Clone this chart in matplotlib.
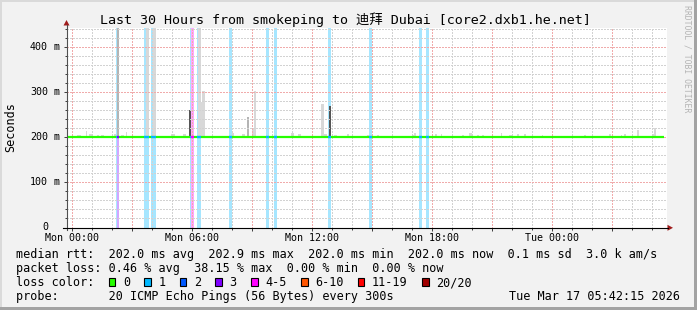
import matplotlib
matplotlib.use('Agg')
import matplotlib.pyplot as plt
from matplotlib.patches import Rectangle, Polygon
from matplotlib.transforms import blended_transform_factory

W, H = 697, 310
MONO = 'DejaVu Sans Mono'
TITLE_FONT = ['DejaVu Sans Mono', 'Noto Sans CJK SC']

# time axis: hours since Mon 00:00
view_start, view_end = -0.25, 29.75
data_end = 29.6
median_ms = 202.0
y_top = 444.4

x_labels = ['Mon 00:00', 'Mon 06:00', 'Mon 12:00', 'Mon 18:00', 'Tue 00:00']
x_label_hours = [0, 6, 12, 18, 24]
y_label_values = [0, 100, 200, 300, 400]
y_label_units = ['', 'm', 'm', 'm', 'm']

loss_labels = ['0', '1', '2', '3', '4-5', '6-10', '11-19', '20/20']
loss_colors = ['#26ff00', '#00b8ff', '#0059ff', '#7e00ff', '#ff00ff', '#ff5500', '#ff0000', '#a10000']

# loss events (hours), binned by lost pings out of 20
loss_start = [2.185, 2.265, 3.600, 3.965, 5.885, 5.965, 6.235, 7.850, 9.700, 10.100, 12.815, 14.850, 17.365, 17.700]
loss_end = [2.265, 2.350, 3.865, 4.185, 5.965, 6.100, 6.450, 7.985, 9.835, 10.235, 12.950, 14.985, 17.485, 17.850]
loss_bin = ['1', '3', '1', '1', '1', '4-5', '1', '1', '1', '1', '1', '1', '1', '1']

# smoke (ping spread above the median)
smoke_start = [0.235, 0.700, 0.865, 1.235, 1.435, 2.100, 2.225, 2.450, 2.685, 3.685, 4.035, 4.950, 5.565,
               5.835, 6.315, 6.465, 6.515, 7.980, 8.485, 8.735, 8.980, 9.100, 10.950, 11.300, 12.450,
               12.600, 12.850, 13.100, 13.735, 14.735, 15.235, 16.985, 17.100, 18.150, 18.450, 19.485,
               19.850, 20.235, 20.485, 21.450, 21.850, 22.235, 22.600, 23.485, 25.600, 26.850, 27.450,
               27.600, 28.250, 28.985, 29.100]
smoke_end = [0.435, 0.770, 0.985, 1.350, 1.600, 2.185, 2.350, 2.600, 2.735, 3.865, 4.185, 5.150, 5.700,
             5.950, 6.450, 6.515, 6.635, 8.100, 8.650, 8.850, 9.100, 9.200, 11.100, 11.435, 12.600,
             12.735, 12.950, 13.235, 13.850, 14.850, 15.350, 17.100, 17.200, 18.265, 18.500, 19.600,
             19.985, 20.350, 20.600, 21.500, 21.985, 22.350, 22.685, 23.565, 25.700, 26.950, 27.515,
             27.685, 28.350, 29.100, 29.185]
smoke_top = [205, 214, 207, 205, 205, 208, 480, 205, 212, 480, 480, 207, 207,
             262, 480, 278, 304, 210, 207, 245, 218, 303, 211, 207, 274,
             208, 270, 205, 207, 205, 205, 205, 210, 208, 207, 205,
             211, 205, 205, 211, 205, 207, 207, 205, 205, 207, 205,
             207, 216, 207, 222]
smoke_level = [0, 0, 0, 0, 0, 0, 1, 0, 0, 0, 0, 0, 0,
               2, 0, 0, 0, 0, 0, 1, 0, 0, 0, 0, 0,
               0, 2, 0, 0, 0, 0, 0, 0, 0, 0, 0,
               0, 0, 0, 0, 0, 0, 0, 0, 0, 0, 0,
               0, 0, 0, 0]
smoke_shades = ['#d8d8d8', '#b4b4b4', '#555555']

rtt_names = ['avg', 'max', 'min', 'now']
rtt_values = [202.0, 202.9, 202.0, 202.0]
rtt_sd = 0.1
am_s = 3.0
loss_pct = [0.46, 38.15, 0.00, 0.00]
probe_text = '20 ICMP Echo Pings (56 Bytes) every 300s'
stamp = 'Tue Mar 17 05:42:15 2026'
title = 'Last 30 Hours from smokeping to 迪拜 Dubai [core2.dxb1.he.net]'

fig = plt.figure(figsize=(W / 100, H / 100), dpi=100, facecolor='#f2f2f2')
ax = fig.add_axes([67 / W, 1 - 227.5 / H, 600 / W, 200 / H], facecolor='white')
ax.set_xlim(view_start, view_end)
ax.set_ylim(0, y_top)
for s in ax.spines.values():
    s.set_visible(False)

# overlay in pixel coordinates
ov = fig.add_axes([0, 0, 1, 1])
ov.set_xlim(0, W)
ov.set_ylim(H, 0)
ov.axis('off')
ov.set_zorder(5)

# loss stripes
for s, e, b in zip(loss_start, loss_end, loss_bin):
    ax.axvspan(s, e, color=loss_colors[loss_labels.index(b)], alpha=0.35, lw=0, zorder=1)

# smoke
for s, e, t, lv in zip(smoke_start, smoke_end, smoke_top, smoke_level):
    ax.bar(s, t - 201, width=e - s, bottom=201, align='edge', color=smoke_shades[lv], lw=0, zorder=2)

# grid, dotted like rrdtool
dot = (0, (1.4, 1.4))
for hh in range(0, 30):
    major = hh % 3 == 0
    ax.axvline(hh, color='#f0abab' if major else '#d2d2d2', lw=0.72, ls=dot,
               antialiased=False, zorder=3)
for v in range(20, 441, 20):
    major = v % 100 == 0
    ax.axhline(v, color='#f0abab' if major else '#d2d2d2', lw=0.72, ls=dot,
               antialiased=False, zorder=3)

# median line, coloured by loss
ax.plot([view_start, data_end], [median_ms, median_ms], color=loss_colors[0], lw=1.6,
        solid_capstyle='butt', zorder=4)
for s, e, b in zip(loss_start, loss_end, loss_bin):
    ax.plot([s, e], [median_ms, median_ms], color=loss_colors[loss_labels.index(b)], lw=1.6,
            solid_capstyle='butt', zorder=4)

# ticks
ax.set_xticks(range(0, 30, 3))
ax.set_xticks(range(0, 30), minor=True)
ax.set_yticks(range(0, 441, 100))
ax.set_yticks(range(0, 441, 20), minor=True)
ax.tick_params(which='both', direction='out', color='#404040', width=0.72,
               labelbottom=False, labelleft=False)
ax.tick_params(which='major', length=2.5)
ax.tick_params(which='minor', length=1.5)

# axis lines and arrows
ov.plot([66.5, 66.5], [230, 25], color='#505050', lw=0.8)
ov.plot([63, 668], [227.8, 227.8], color='black', lw=0.8)
ov.add_patch(Polygon([(63.5, 25.5), (69.5, 25.5), (66.5, 20)], closed=True, color='#a01c1c', lw=0))
ov.add_patch(Polygon([(667.5, 224.8), (667.5, 230.8), (673, 227.8)], closed=True, color='#a01c1c', lw=0))

# tick labels
bx = blended_transform_factory(ax.transData, ov.transData)
for hh, lab in zip(x_label_hours, x_labels):
    ov.text(hh, 237.7, lab, transform=bx, ha='center', va='center', fontsize=7.2, family=MONO)
by = blended_transform_factory(ov.transData, ax.transData)
for v, u in zip(y_label_values, y_label_units):
    ov.text(48, v, f'{v}', transform=by, ha='right', va='center', fontsize=7.2, family=MONO)
    if u:
        ov.text(54, v, u, transform=by, ha='left', va='center', fontsize=7.2, family=MONO)

ov.text(11, 127.5, 'Seconds', rotation=90, ha='center', va='center', fontsize=8.5, family=MONO)
ov.text(345, 24, title, ha='center', va='baseline', fontsize=9.6, family=TITLE_FONT)
ov.text(687, 5, 'RRDTOOL / TOBI OETIKER', rotation=270, ha='center', va='top',
        fontsize=5.9, family=MONO, color='#b4b4b4')

# legend
cw = 7.12
x0 = 16
line1 = 'median rtt:  ' + '  '.join(f'{v:.1f} ms {n}' for v, n in zip(rtt_values, rtt_names)) \
        + f'  {rtt_sd:.1f} ms sd  {am_s:.1f} k am/s'
line2 = 'packet loss: ' + '  '.join(f'{v:.2f} % {n}' for v, n in zip(loss_pct, rtt_names))
ov.text(x0, 258.3, line1, ha='left', va='baseline', fontsize=8.5, family=MONO)
ov.text(x0, 272.3, line2, ha='left', va='baseline', fontsize=8.5, family=MONO)
ov.text(x0, 286.3, 'loss color:', ha='left', va='baseline', fontsize=8.5, family=MONO)
cur = 13
for lab, col in zip(loss_labels, loss_colors):
    bxp = x0 + cur * cw
    ov.add_patch(Rectangle((bxp, 278.3), 6.7, 7.7, facecolor=col, edgecolor='black', lw=0.8))
    ov.text(x0 + (cur + 2) * cw, 286.3, lab, ha='left', va='baseline', fontsize=8.5, family=MONO)
    cur += 2 + len(lab) + 2
ov.text(x0, 300, 'probe:       ' + probe_text, ha='left', va='baseline', fontsize=8.5, family=MONO)
ov.text(680, 300, stamp, ha='right', va='baseline', fontsize=8.5, family=MONO)

# 3d frame
ov.add_patch(Rectangle((0, 0), W, 2, color='#dadada', lw=0))
ov.add_patch(Rectangle((0, 0), 2, H, color='#dadada', lw=0))
ov.add_patch(Rectangle((0, H - 3), W, 3, color='#a3a3a3', lw=0))
ov.add_patch(Rectangle((W - 3, 0), 3, H, color='#a3a3a3', lw=0))

fig.savefig('out.png', dpi=100, facecolor=fig.get_facecolor())
